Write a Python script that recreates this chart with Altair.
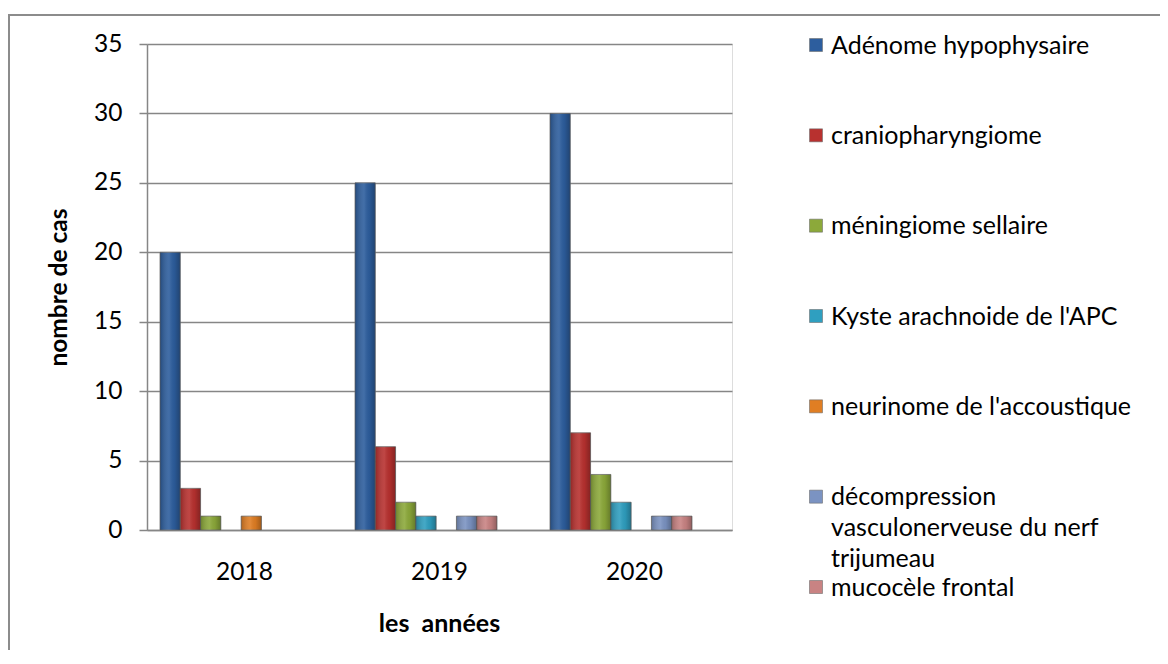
import altair as alt
import pandas as pd

years = ["2018", "2019", "2020"]
categories = [
    "Adénome hypophysaire",
    "craniopharyngiome",
    "méningiome sellaire",
    "Kyste arachnoide de l'APC",
    "neurinome de l'accoustique",
    "décompression vasculonerveuse du nerf trijumeau",
    "mucocèle frontal",
]
legend_labels = [
    "Adénome hypophysaire",
    "craniopharyngiome",
    "méningiome sellaire",
    "Kyste arachnoide de l'APC",
    "neurinome de l'accoustique",
    "décompression\nvasculonerveuse du nerf\ntrijumeau",
    "mucocèle frontal",
]
adenome = [20, 25, 30]
cranio = [3, 6, 7]
meningiome = [1, 2, 4]
kyste = [0, 1, 2]
neurinome = [1, 0, 0]
decompression = [0, 1, 1]
mucocele = [0, 1, 1]
series = [adenome, cranio, meningiome, kyste, neurinome, decompression, mucocele]
colors = ["#2D5E9E", "#B8312F", "#8CA93A", "#2F9FC0", "#E07E23", "#7B93C2", "#C98383"]

rows = []
for cat, vals in zip(categories, series):
    for yr, v in zip(years, vals):
        rows.append({"year": yr, "cat": cat, "n": v})
bar_df = pd.DataFrame(rows)
leg_df = pd.DataFrame({"cat": categories, "label": legend_labels})

FONT = "Lato"
GRAY = "#868686"
W, H = 585, 486
PAD = {"left": 139, "top": 36, "right": 428, "bottom": 120}

color_enc = alt.Color("cat:N", scale=alt.Scale(domain=categories, range=colors), legend=None)
x_enc = alt.X(
    "year:N",
    sort=years,
    scale=alt.Scale(paddingInner=0, paddingOuter=0),
    axis=alt.Axis(
        title="les\u00a0 années", titleFont=FONT, titleFontSize=25, titleFontWeight="bold",
        titleColor="black", titleX=292, titleY=93, titleBaseline="middle",
        labelAngle=0, labelFont=FONT, labelFontSize=24.5, labelColor="black",
        labelPadding=42, labelBaseline="middle", ticks=False, tickSize=0,
        domainColor=GRAY, domainWidth=1.5, grid=False,
    ),
)
xo_enc = alt.XOffset(
    "cat:N", sort=categories,
    scale=alt.Scale(domain=categories, paddingInner=0, paddingOuter=0, range=[13, 155]),
)
y_axis = alt.Axis(
    title="nombre de cas", titleFont=FONT, titleFontSize=24.5, titleFontWeight="bold",
    titleColor="black", titleX=-88, titleY=243, titleBaseline="middle", titleAlign="center",
    values=[0, 5, 10, 15, 20, 25, 30, 35], labelFont=FONT, labelFontSize=24.5,
    labelColor="black", labelPadding=17, tickSize=8, tickColor=GRAY, tickWidth=1.5,
    gridColor=GRAY, gridWidth=1.5, domainColor=GRAY, domainWidth=1.5,
)
y_enc = alt.Y("n:Q", scale=alt.Scale(domain=[0, 35]), axis=y_axis)

bars = alt.Chart(bar_df).transform_filter("datum.n > 0").mark_bar(
    stroke="#6f6f6f", strokeWidth=0.8
).encode(x=x_enc, xOffset=xo_enc, y=y_enc, color=color_enc)

shade = alt.Chart(bar_df).transform_filter("datum.n > 0").mark_bar(
    color=alt.Gradient(
        gradient="linear", x1=0, x2=1, y1=0, y2=0,
        stops=[
            alt.GradientStop(color="rgba(0,0,0,0.22)", offset=0),
            alt.GradientStop(color="rgba(255,255,255,0.10)", offset=0.45),
            alt.GradientStop(color="rgba(0,0,0,0.05)", offset=0.7),
            alt.GradientStop(color="rgba(0,0,0,0.28)", offset=1),
        ],
    )
).encode(x=x_enc, xOffset=xo_enc, y=y_enc)

bar_layer = alt.layer(bars, shade)

leg_y = alt.Y("cat:N", sort=categories,
              scale=alt.Scale(type="point", domain=categories, range=[1, 543], padding=0),
              axis=None)
leg_sym = alt.Chart(leg_df).mark_square(size=169, opacity=1, stroke="#6f6f6f", strokeWidth=0.6).encode(
    x=alt.value(669), y=leg_y, color=color_enc
)
leg_txt = alt.Chart(leg_df).mark_text(
    align="left", baseline="top", dy=-11.5, lineBreak="\n", lineHeight=31,
    font=FONT, fontSize=25, color="black",
).encode(x=alt.value(684), y=leg_y, text="label:N")

frame_df = pd.DataFrame({"k": [0]})
frame_top = alt.Chart(frame_df).mark_rule(stroke="#8c8c8c", strokeWidth=2).encode(
    x=alt.value(-139), x2=alt.value(W + PAD["right"]), y=alt.value(-29)
)
frame_left = alt.Chart(frame_df).mark_rule(stroke="#8c8c8c", strokeWidth=2).encode(
    x=alt.value(-138), y=alt.value(-30), y2=alt.value(H + PAD["bottom"])
)

chart = alt.layer(frame_top, frame_left, bar_layer, leg_sym, leg_txt).resolve_scale(
    y="independent"
).properties(
    width=W, height=H,
    autosize=alt.AutoSizeParams(type="none"),
    padding=PAD,
).configure_view(strokeWidth=0).configure(background="white")

chart.save("out.html", embed_options={"renderer": "svg", "actions": False})
